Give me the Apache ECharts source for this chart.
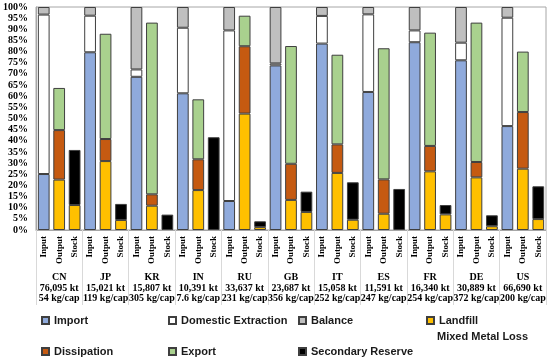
<!DOCTYPE html>
<html><head><meta charset="utf-8">
<script src="https://cdn.jsdelivr.net/npm/echarts@6/dist/echarts.min.js"></script>
<style>html,body{margin:0;padding:0;background:#fff}#c{width:550px;height:362px}</style>
</head><body><div id="c"></div>
<script>
var countries = ['CN','JP','KR','IN','RU','GB','IT','ES','FR','DE','US'];
var totals = ['76,095 kt','15,021 kt','15,807 kt','10,391 kt','33,637 kt','23,687 kt','15,058 kt','11,591 kt','16,340 kt','30,889 kt','66,690 kt'];
var perCap = ['54 kg/cap','119 kg/cap','305 kg/cap','7.6 kg/cap','231 kg/cap','356 kg/cap','252 kg/cap','247 kg/cap','254 kg/cap','372 kg/cap','200 kg/cap'];
var barKinds = ['Input','Output','Stock'];
// Input bar
var importV   = [25.1, 79.7, 68.7, 61.3, 13.0, 73.8, 83.6, 61.9, 84.2, 76.1, 46.6];
var domExt    = [71.5, 16.4,  3.3, 29.4, 76.5,  0.9, 12.4, 34.8,  5.3,  7.9, 48.6];
var balance   = [ 3.4,  3.9, 28.0,  9.3, 10.5, 25.3,  4.0,  3.3, 10.5, 16.0,  4.8];
// Output bar
var landfill  = [22.6, 30.9, 10.9, 17.9, 52.2, 13.5, 25.6,  7.3, 26.3, 23.6, 27.5];
var dissip    = [22.2,  9.9,  5.1, 13.8, 30.2, 16.2, 12.8, 15.4, 11.4,  6.9, 25.4];
var exportV   = [18.9, 47.2, 77.0, 26.9, 13.7, 52.8, 40.2, 58.8, 50.8, 62.5, 27.1];
// Stock bar
var mixedLoss = [11.2,  4.5,  0.0,  0.0,  1.3,  8.1,  4.6,  0.0,  7.0,  1.7,  4.9];
var secondary = [24.7,  7.2,  6.9, 41.6,  2.6,  9.1, 16.8, 18.4,  4.2,  4.9, 14.7];
var yTicks = [0,5,10,15,20,25,30,35,40,45,50,55,60,65,70,75,80,85,90,95,100];

var cats = [];
countries.forEach(function(c){ barKinds.forEach(function(k){ cats.push(k); }); });
function place(arr, slot){
  var out = [];
  arr.forEach(function(v){
    for (var s=0;s<3;s++) out.push(s===slot && v>0 ? v : '-');
  });
  return out;
}
function placeStockOrOut(outArr, stockArr){
  var out = [];
  for (var i=0;i<outArr.length;i++){
    out.push('-');
    out.push(outArr[i]>0?outArr[i]:'-');
    out.push(stockArr[i]>0?stockArr[i]:'-');
  }
  return out;
}
var border = '#3f3f3f';
function ser(name, data, color){
  return {name:name, type:'bar', stack:'all', data:data, barWidth:'76%',
    itemStyle:{color:color, borderColor:border, borderWidth:1}, emphasis:{disabled:true}};
}
var series = [
  ser('Import', place(importV,0), '#8faadc'),
  ser('Domestic Extraction', place(domExt,0), '#ffffff'),
  ser('Balance', place(balance,0), '#bfbfbf'),
  ser('Landfill', placeStockOrOut(landfill, mixedLoss), '#ffc000'),
  ser('Dissipation', place(dissip,1), '#c55a11'),
  ser('Export', place(exportV,1), '#a9d18e'),
  ser('Secondary Reserve', place(secondary,2), '#000000')
];
var legendPos = [
  ['Import',41,315],['Domestic Extraction',168,315],['Balance',298,315],['Landfill',426,315],
  ['Dissipation',41,346],['Export',168,346],['Secondary Reserve',298,346]
];
var legends = legendPos.map(function(p){
  return {data:[p[0]], left:p[1], top:p[2], padding:0, itemWidth:7, itemHeight:7, icon:'rect',
    selectedMode:false,
    textStyle:{fontFamily:'Liberation Sans', fontWeight:'bold', fontSize:11, color:'#1a1a1a'}};
});
var serif = 'Liberation Serif';
var chart = echarts.init(document.getElementById('c'), null, {renderer:'canvas'});
chart.setOption({
  animation:false,
  backgroundColor:'#fff',
  grid:{left:36, right:4, top:7, bottom:132, show:true, borderColor:'#a6a6a6', borderWidth:1},
  legend: legends,
  graphic:[{type:'text', left:437, top:331, style:{text:'Mixed Metal Loss', fontFamily:'Liberation Sans', fontWeight:'bold', fontSize:11, fill:'#1a1a1a'}}],
  xAxis:[
    {type:'category', data:cats, position:'bottom',
     axisLine:{show:true, lineStyle:{color:'#a6a6a6'}}, axisTick:{show:false},
     axisLabel:{rotate:90, interval:0, margin:6, fontFamily:serif, fontWeight:'bold', fontSize:9, color:'#000'}},
    {type:'category', data:countries, position:'bottom',
     axisLine:{show:false}, axisTick:{show:true, length:75, lineStyle:{color:'#d9d9d9'}},
     axisLabel:{interval:0, margin:42, fontFamily:serif, fontWeight:'bold', fontSize:10, color:'#000', lineHeight:10.7,
       formatter:function(v, i){ return v + '\n' + totals[i] + '\n' + perCap[i]; }}}
  ],
  yAxis:{type:'value', min:0, max:100, interval:5,
    axisLine:{show:true, lineStyle:{color:'#a6a6a6'}}, axisTick:{show:false}, splitLine:{show:false},
    axisLabel:{margin:8, fontFamily:serif, fontWeight:'bold', fontSize:10, color:'#000',
      formatter:function(v){ return yTicks.indexOf(v)>=0 ? v+'%' : ''; }}},
  series: series
});
</script></body></html>
